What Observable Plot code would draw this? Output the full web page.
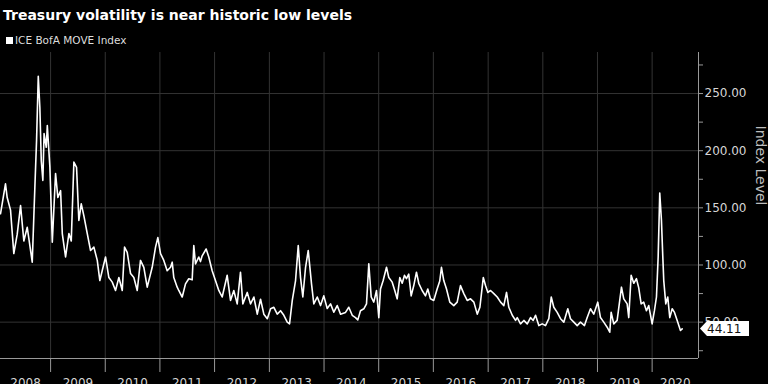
<!DOCTYPE html>
<html>
<head>
<meta charset="utf-8">
<script src="https://cdn.jsdelivr.net/npm/d3@7"></script>
<script src="https://cdn.jsdelivr.net/npm/@observablehq/plot@0.6"></script>
<style>
  html, body { margin: 0; padding: 0; background: #000; overflow: hidden; }
  #wrap { width: 768px; height: 384px; position: relative; background: #000; }
  #hdr { position: relative; height: 52px; }
  .title { position: absolute; left: 3px; top: 8px; font: bold 14px/14px "DejaVu Sans", sans-serif; color: #fff; white-space: nowrap; }
  .leg { position: absolute; left: 15px; top: 35px; font: 10.5px/11px "DejaVu Sans", sans-serif; color: #ddd; white-space: nowrap; }
  .sw { position: absolute; left: 6px; top: 37px; width: 7px; height: 7px; background: #fff; }
  svg [aria-label^="y-axis"] text { fill: #d6d6d6; }
  svg [aria-label^="y-axis"] line, svg [aria-label^="y-axis"] path { stroke: #999; }
  svg [aria-label^="x-axis"] line, svg [aria-label^="x-axis"] path { stroke: #999; }
</style>
</head>
<body>
<div id="wrap">
  <div id="hdr">
    <div class="title">Treasury volatility is near historic low levels</div>
    <div class="sw"></div>
    <div class="leg">ICE BofA MOVE Index</div>
  </div>
  <div id="chart"></div>
</div>
<script>
// ---- data (decimal year, index level) ----
const times = [
2008.086,2008.177,2008.208,2008.269,2008.329,2008.391,2008.452,2008.512,2008.574,2008.665,2008.713,2008.744,2008.775,2008.804,2008.830,2008.859,2008.881,2008.921,2008.940,2008.987,
2009.031,2009.091,2009.133,2009.183,2009.214,2009.274,2009.335,2009.378,2009.426,2009.475,2009.517,2009.561,2009.609,2009.671,2009.731,2009.792,2009.854,2009.901,
2010.005,2010.066,2010.128,2010.188,2010.249,2010.311,2010.353,2010.402,2010.463,2010.523,2010.585,2010.645,2010.706,2010.768,2010.859,2010.920,2010.962,
2011.011,2011.071,2011.133,2011.194,2011.225,2011.254,2011.316,2011.345,2011.408,2011.468,2011.528,2011.590,2011.620,2011.651,2011.711,2011.742,2011.773,2011.846,2011.894,2011.956,
2012.016,2012.077,2012.139,2012.230,2012.291,2012.351,2012.413,2012.473,2012.516,2012.596,2012.656,2012.717,2012.779,2012.839,2012.899,2012.962,
2013.022,2013.082,2013.144,2013.205,2013.265,2013.327,2013.369,2013.419,2013.479,2013.528,2013.570,2013.612,2013.662,2013.711,2013.771,2013.813,2013.876,2013.936,2013.996,
2014.058,2014.119,2014.179,2014.241,2014.302,2014.393,2014.453,2014.516,2014.576,2014.618,2014.667,2014.728,2014.777,2014.819,2014.863,2014.910,2014.960,
2015.002,2015.033,2015.082,2015.143,2015.185,2015.247,2015.294,2015.338,2015.386,2015.430,2015.472,2015.508,2015.550,2015.594,2015.642,2015.691,2015.733,2015.795,2015.856,2015.898,2015.947,
2016.007,2016.069,2016.117,2016.148,2016.190,2016.240,2016.300,2016.373,2016.435,2016.495,2016.556,2016.618,2016.678,2016.739,2016.801,2016.849,2016.911,2016.952,2016.995,
2017.044,2017.104,2017.166,2017.227,2017.287,2017.336,2017.378,2017.441,2017.501,2017.532,2017.592,2017.653,2017.715,2017.775,2017.824,2017.867,2017.927,2017.989,
2018.049,2018.110,2018.154,2018.201,2018.263,2018.324,2018.384,2018.457,2018.506,2018.567,2018.629,2018.689,2018.762,2018.812,2018.872,2018.932,
2019.005,2019.055,2019.115,2019.177,2019.225,2019.250,2019.298,2019.360,2019.439,2019.481,2019.543,2019.572,2019.616,2019.664,2019.713,2019.755,2019.799,2019.846,2019.896,2019.938,
2020.000,2020.042,2020.079,2020.110,2020.139,2020.170,2020.194,2020.212,2020.249,2020.285,2020.322,2020.366,2020.408,2020.457,2020.517,2020.548
];
const values = [
144.8,171,159,148,110,127,152,121,133,102.5,168,209,265,238,191,174,215,203,222,185.6,
120,180,159,165,127.5,107,127.5,121,190,185.5,139,153.5,143,127.5,112.7,115.6,104,86.4,
107,89,85,77.7,89,77.7,115.6,111,92.5,89,77.7,104,98,80.6,98,115.6,124,
110,104,95,98,102.5,89,80.6,77.7,72,83.5,88,87,117,101,107,103,108,114,107,95,
86.4,77.7,72,91,69,77.7,66,93.7,66,76,66,72,57,70,57,53,
61.7,63,57,60,56,50,48.5,69,86.4,117,89,72,98,112.7,83.5,66,72,64.5,73,
62,66,58.7,64.5,57,58.5,63,56,54,52,60,61.7,66,101,72,67.5,77.7,
54,79,86.4,98,89,85,77.7,70.4,89,84,91,88,92,73,82,93.7,84,77.7,73,79,70.4,
69,79,86,98,86.4,79,67.5,64.5,67.5,82,75,69,70.4,67.5,57,63,89,82,76,
77.7,75,72,67.5,64.5,76,63,56,51.5,54,48.5,51.5,48.5,54,51.5,56,47,48.5,
47,53,72,63,58.5,53,50,61.7,53,50,47,50,47,54,61.7,57,
67.5,54,50,45.6,41.2,58.7,48.5,51.5,80.6,70.4,66,54,91,84,88,80,66,67.5,60,64.5,
48.5,60,72,107,163,139,108,86.4,66,72,54,61.7,58.5,51.5,42.7,44.11
];
const yearLabels = [2008,2009,2010,2011,2012,2013,2014,2015,2016,2017,2018,2019,2020];
const yTicks = [25,50,75,100,125,150,175,200,225,250,275];
const yLabelTicks = [50,100,150,200,250];
const xExtent = [2008.086, 2020.846];
const yExtent = [18.2, 285.9];
const lastLabel = "44.11";

// ---- build ----
function toDate(t) {
  const y = Math.floor(t), a = Date.UTC(y, 0, 1), b = Date.UTC(y + 1, 0, 1);
  return new Date(a + (t - y) * (b - a));
}
const data = times.map((t, i) => ({date: toDate(t), value: values[i]}));
const x0 = toDate(xExtent[0]), x1 = toDate(xExtent[1]);
const yearStarts = yearLabels.map(y => new Date(Date.UTC(y, 0, 1))).filter(d => d > x0 && d < x1);
const labelPos = yearLabels.map(y => {
  const a = Math.max(+new Date(Date.UTC(y, 0, 1)), +x0);
  const b = Math.min(+new Date(Date.UTC(y + 1, 0, 1)), +x1);
  return {date: new Date((a + b) / 2), text: String(y)};
});

const plot = Plot.plot({
  width: 768,
  height: 332,
  marginTop: 0,
  marginBottom: 26,
  marginLeft: 0,
  marginRight: 70,
  style: {background: "#000", color: "#999", fontFamily: "DejaVu Sans, sans-serif", fontSize: "12px", overflow: "visible"},
  x: {type: "utc", domain: [x0, x1], axis: "bottom", ticks: yearStarts, tickFormat: () => "", tickSize: 14, label: null},
  y: {domain: yExtent, axis: "right", ticks: yTicks, tickFormat: d => yLabelTicks.includes(d) ? d.toFixed(2) : "", tickSize: 4, tickPadding: 2, label: null},
  marks: [
    Plot.ruleY(yLabelTicks, {stroke: "#333", strokeWidth: 1}),
    Plot.ruleX(yearStarts, {stroke: "#333", strokeWidth: 1}),
    Plot.ruleX([x1], {stroke: "#999"}),
    Plot.ruleY([yExtent[0]], {stroke: "#999"}),
    Plot.lineY(data, {x: "date", y: "value", stroke: "#fff", strokeWidth: 1.6, strokeLinejoin: "round"}),
    Plot.text(labelPos, {x: "date", text: "text", frameAnchor: "bottom", dy: 28, fill: "#d6d6d6", fontSize: 12}),
    Plot.text(["Index Level"], {frameAnchor: "right", dx: 62, rotate: 90, fill: "#bdbdbd", fontSize: 14, text: d => d})
  ]
});
document.getElementById("chart").appendChild(plot);

// last-value label placed through the plot's own scales
const ys = plot.scale("y"), xs = plot.scale("x");
const yv = ys.apply(values[values.length - 1]);
const xr = xs.apply(x1);
const g = d3.select(plot).append("g").attr("aria-label", "last value");
g.append("path")
  .attr("d", `M${xr + 2},${yv} L${xr + 9},${yv - 7.5} L${xr + 51},${yv - 7.5} L${xr + 51},${yv + 7.5} L${xr + 9},${yv + 7.5} Z`)
  .attr("fill", "#fff");
g.append("text")
  .attr("x", xr + 9).attr("y", yv).attr("dy", "0.35em")
  .attr("text-anchor", "start")
  .attr("fill", "#111").attr("font-size", 12).attr("font-family", "DejaVu Sans, sans-serif")
  .text(lastLabel);
</script>
</body>
</html>
